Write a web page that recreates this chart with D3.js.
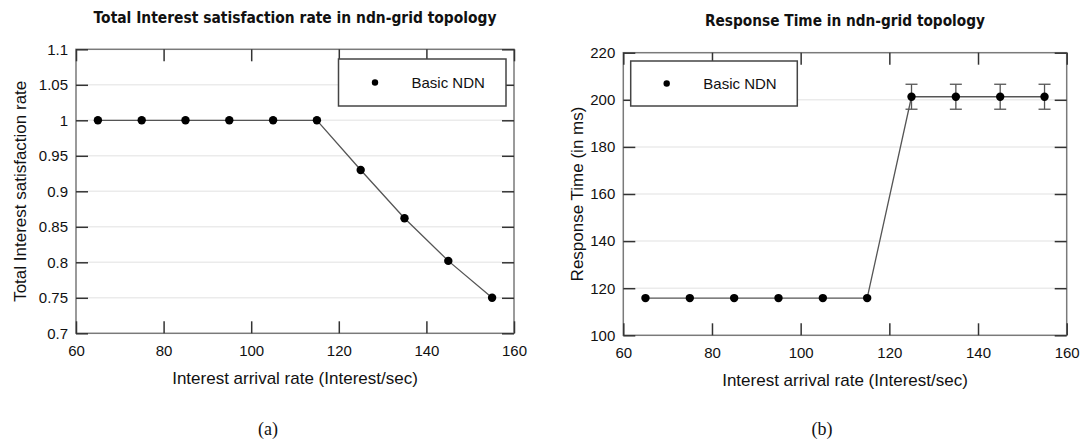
<!DOCTYPE html>
<html>
<head>
<meta charset="utf-8">
<script src="https://cdn.jsdelivr.net/npm/d3@7"></script>
<style>
  html, body { margin: 0; padding: 0; background: #fff; }
  svg { display: block; }
</style>
</head>
<body>
<svg id="chart" width="1084" height="445"></svg>
<script>
// ---------------- DATA ----------------
const arrivalRates = [65, 75, 85, 95, 105, 115, 125, 135, 145, 155];
const satisfactionRate = [1, 1, 1, 1, 1, 1, 0.93, 0.862, 0.802, 0.75];
const responseTime = [115.8, 115.8, 115.8, 115.8, 115.8, 115.8, 201.3, 201.3, 201.3, 201.3];
const responseTimeErr = [0, 0, 0, 0, 0, 0, 5.3, 5.3, 5.3, 5.3];
const xTicks = [60, 80, 100, 120, 140, 160];
const satTicks = [0.7, 0.75, 0.8, 0.85, 0.9, 0.95, 1, 1.05, 1.1];
const rtTicks = [100, 120, 140, 160, 180, 200, 220];
const seriesName = "Basic NDN";
const titles = ["Total Interest satisfaction rate in ndn-grid topology", "Response Time in ndn-grid topology"];
const yTitles = ["Total Interest satisfaction rate", "Response Time (in ms)"];
const xTitle = "Interest arrival rate (Interest/sec)";
const captions = ["(a)", "(b)"];

// ---------------- DRAW ----------------
const svg = d3.select("#chart");
const SANS = "'Liberation Sans', Arial, sans-serif";

function panel(cfg) {
  const g = svg.append("g");
  const x = d3.scaleLinear().domain([60, 160]).range([cfg.x0, cfg.x1]);
  const y = d3.scaleLinear().domain(cfg.yDomain).range([cfg.y1, cfg.y0]);
  const fmt = cfg.fmt;

  // gridlines
  g.append("g").selectAll("line")
    .data(cfg.yTicks.slice(1, -1)).join("line")
    .attr("x1", cfg.x0).attr("x2", cfg.x1)
    .attr("y1", d => y(d)).attr("y2", d => y(d))
    .attr("stroke", "#ebebeb").attr("stroke-width", 1.5);

  // frame
  g.append("rect")
    .attr("x", cfg.x0).attr("y", cfg.y0)
    .attr("width", cfg.x1 - cfg.x0).attr("height", cfg.y1 - cfg.y0)
    .attr("fill", "none").attr("stroke", "#7a7a7a").attr("stroke-width", 1.5);

  const styleAxis = sel => {
    sel.select(".domain").remove();
    sel.selectAll(".tick line").attr("stroke", "#333").attr("stroke-width", 1.5);
    sel.selectAll("text").attr("fill", "#111").style("font-family", SANS).style("font-size", "15px");
  };

  g.append("g").attr("transform", `translate(0,${cfg.y1})`)
    .call(d3.axisBottom(x).tickValues(xTicks).tickSize(-12).tickPadding(12).tickFormat(d3.format("d")))
    .call(styleAxis);
  g.append("g").attr("transform", `translate(0,${cfg.y0})`)
    .call(d3.axisTop(x).tickValues(xTicks).tickSize(-12).tickFormat(""))
    .call(styleAxis);
  g.append("g").attr("transform", `translate(${cfg.x0},0)`)
    .call(d3.axisLeft(y).tickValues(cfg.yTicks).tickSize(-12).tickPadding(8).tickFormat(fmt))
    .call(styleAxis);
  g.append("g").attr("transform", `translate(${cfg.x1},0)`)
    .call(d3.axisRight(y).tickValues(cfg.yTicks).tickSize(-12).tickFormat(""))
    .call(styleAxis);

  // line
  const pts = arrivalRates.map((d, i) => ({ x: d, y: cfg.values[i], e: cfg.err ? cfg.err[i] : 0 }));
  g.append("path").datum(pts)
    .attr("d", d3.line().x(d => x(d.x)).y(d => y(d.y)))
    .attr("fill", "none").attr("stroke", "#555").attr("stroke-width", 1.3);

  // error bars
  const eb = g.append("g").attr("stroke", "#555").attr("stroke-width", 1.3);
  pts.filter(d => d.e > 0).forEach(d => {
    eb.append("line").attr("x1", x(d.x)).attr("x2", x(d.x)).attr("y1", y(d.y - d.e)).attr("y2", y(d.y + d.e));
    eb.append("line").attr("x1", x(d.x) - 6).attr("x2", x(d.x) + 6).attr("y1", y(d.y - d.e)).attr("y2", y(d.y - d.e));
    eb.append("line").attr("x1", x(d.x) - 6).attr("x2", x(d.x) + 6).attr("y1", y(d.y + d.e)).attr("y2", y(d.y + d.e));
  });

  // points
  g.append("g").selectAll("circle").data(pts).join("circle")
    .attr("cx", d => x(d.x)).attr("cy", d => y(d.y)).attr("r", 4.2).attr("fill", "#000");

  // legend
  const L = cfg.legend;
  g.append("rect").attr("x", L.x).attr("y", L.y).attr("width", L.w).attr("height", L.h)
    .attr("fill", "#fff").attr("stroke", "#444").attr("stroke-width", 1.5);
  g.append("circle").attr("cx", L.x + L.mx).attr("cy", L.y + L.h / 2).attr("r", 3.2).attr("fill", "#000");
  g.append("text").attr("x", L.x + L.tx).attr("y", L.y + L.h / 2 + 5.3)
    .style("font-family", SANS).style("font-size", "15px").attr("fill", "#111").text(seriesName);

  // titles
  const cx = (cfg.x0 + cfg.x1) / 2;
  g.append("text").attr("x", cx).attr("y", cfg.titleY).attr("text-anchor", "middle")
    .style("font-family", "'DejaVu Sans', sans-serif").style("font-weight", "bold").style("font-size", "16px")
    .attr("textLength", cfg.titleLen).attr("lengthAdjust", "spacingAndGlyphs")
    .attr("fill", "#111").text(cfg.title);
  g.append("text").attr("x", cx).attr("y", cfg.xTitleY).attr("text-anchor", "middle")
    .style("font-family", SANS).style("font-size", "17px").attr("fill", "#111").text(xTitle);
  g.append("text")
    .attr("transform", `translate(${cfg.yTitleX},${(cfg.y0 + cfg.y1) / 2}) rotate(-90)`)
    .attr("text-anchor", "middle")
    .style("font-family", SANS).style("font-size", "17px").attr("fill", "#111").text(cfg.yTitle);
  g.append("text").attr("x", cfg.capX).attr("y", 435).attr("text-anchor", "middle")
    .style("font-family", "'Liberation Serif', 'DejaVu Serif', serif").style("font-size", "18px")
    .attr("fill", "#111").text(cfg.caption);
}

panel({
  x0: 76, x1: 514, y0: 49.3, y1: 333.3,
  yDomain: [0.7, 1.1], yTicks: satTicks, fmt: d => String(+d.toFixed(2)),
  values: satisfactionRate, err: null,
  legend: { x: 338.5, y: 59, w: 167.5, h: 47, mx: 36.5, tx: 73 },
  title: titles[0], titleY: 22.5, titleLen: 403,
  xTitleY: 384, yTitleX: 26, yTitle: yTitles[0],
  caption: captions[0], capX: 268
});

panel({
  x0: 623.3, x1: 1066.7, y0: 52.7, y1: 335.3,
  yDomain: [100, 220], yTicks: rtTicks, fmt: d3.format("d"),
  values: responseTime, err: responseTimeErr,
  legend: { x: 630.7, y: 61, w: 166.6, h: 45, mx: 36, tx: 72.6 },
  title: titles[1], titleY: 26, titleLen: 280,
  xTitleY: 386, yTitleX: 583, yTitle: yTitles[1],
  caption: captions[1], capX: 822
});
</script>
</body>
</html>
